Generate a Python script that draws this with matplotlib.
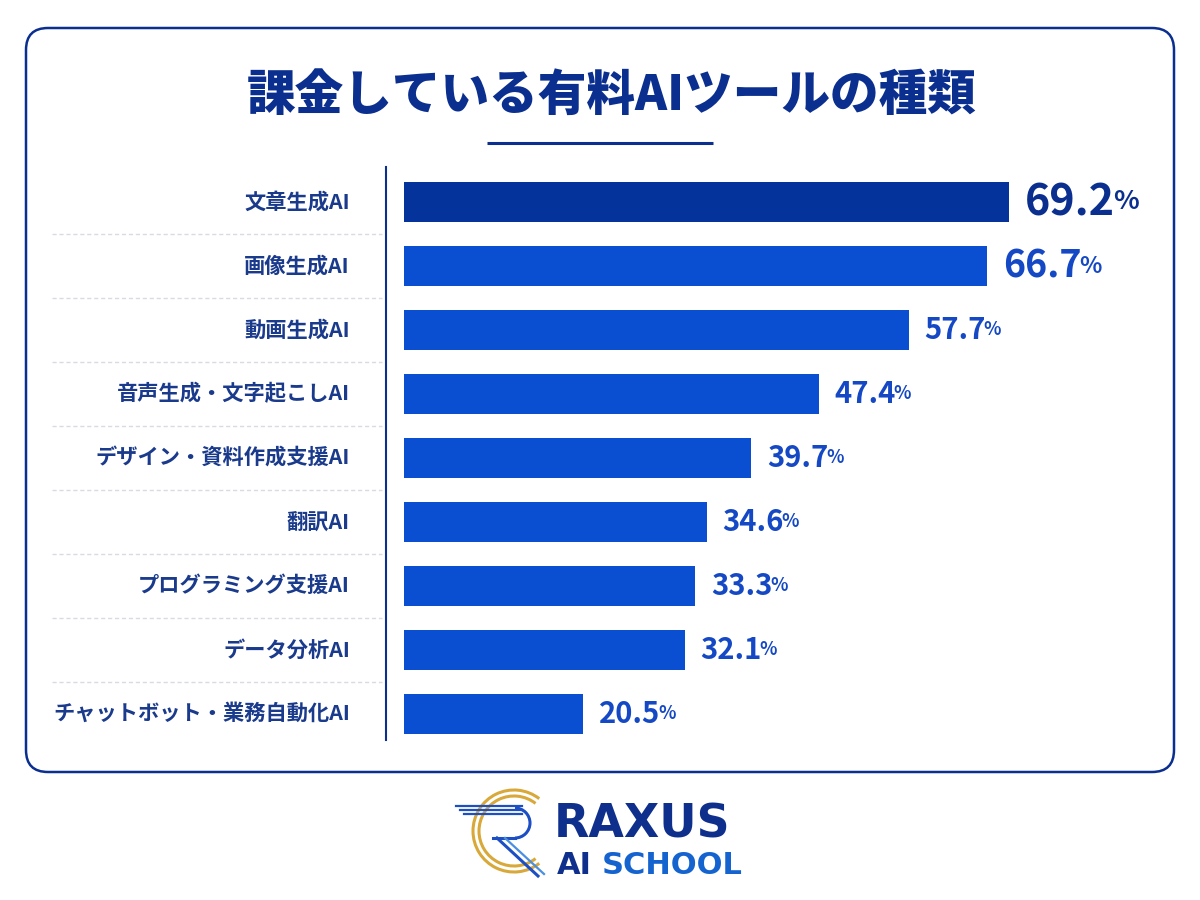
import matplotlib
matplotlib.use('Agg')
import matplotlib.pyplot as plt
from matplotlib.patches import FancyBboxPatch, Arc
from matplotlib.transforms import blended_transform_factory

plt.rcParams['font.family'] = ['Noto Sans CJK JP', 'DejaVu Sans']

title = '課金している有料AIツールの種類'
categories = ['文章生成AI', '画像生成AI', '動画生成AI', '音声生成・文字起こしAI',
              'デザイン・資料作成支援AI', '翻訳AI', 'プログラミング支援AI',
              'データ分析AI', 'チャットボット・業務自動化AI']
values = [69.2, 66.7, 57.7, 47.4, 39.7, 34.6, 33.3, 32.1, 20.5]

navy = '#0b2f8f'
blue = '#0a4fd2'
top_bar = '#03339b'

fig = plt.figure(figsize=(12, 9), dpi=100, facecolor='white')

# decoration layer in pixel coordinates
bg = fig.add_axes([0, 0, 1, 1])
bg.set_xlim(0, 1200)
bg.set_ylim(900, 0)
bg.axis('off')

box = FancyBboxPatch((26, 28), 1148, 744, boxstyle='round,pad=0,rounding_size=22',
                     facecolor='white', edgecolor=navy, linewidth=1.8)
bg.add_patch(box)
bg.text(612, 96, title, ha='center', va='center', fontsize=35,
        fontweight='heavy', color=navy)
bg.plot([487, 713], [143, 143], color=navy, lw=2.2, solid_capstyle='butt')

# logo
gold = '#d8a93a'
for r in (41, 35):
    bg.add_patch(Arc((514, 831), 2 * r, 2 * r, theta1=52, theta2=308,
                     color=gold, lw=2.2))
for dy in (0, 4, 8):
    bg.plot([456 + dy, 522], [806 + dy, 806 + dy], color='#1d4fc4', lw=1.6)
bg.add_patch(Arc((515, 823), 30, 30, theta1=-90, theta2=90, color='#1d4fc4', lw=2.2))
bg.plot([515, 493], [838, 838], color='#1d4fc4', lw=2.2)
bg.plot([497, 538], [838, 876], color='#1d4fc4', lw=2.2)
bg.plot([505, 544], [838, 874], color='#4a8fe0', lw=1.6)
bg.text(554, 838, 'RAXUS', ha='left', va='baseline', fontsize=33,
        fontweight='bold', color='#0f2f8c', family='DejaVu Sans')
bg.text(557, 874, 'AI', ha='left', va='baseline', fontsize=22,
        fontweight='bold', color='#0f2f8c', family='DejaVu Sans')
bg.text(602, 874, 'SCHOOL', ha='left', va='baseline', fontsize=22,
        fontweight='bold', color='#1463cf', family='DejaVu Sans')

# bar chart
ax = fig.add_axes([404 / 1200, 1 - 740 / 900, 746 / 1200, 573 / 900])
ax.set_facecolor('none')
ypos = list(range(len(categories)))
colors = [top_bar] + [blue] * (len(values) - 1)
ax.barh(ypos, values, height=0.63, color=colors)
ax.set_xlim(0, 85.3)
ax.set_ylim(8.41, -0.55)
ax.set_xticks([])
ax.set_yticks([])
for s in ['top', 'right', 'bottom']:
    ax.spines[s].set_visible(False)
ax.spines['left'].set_position(('outward', 13))
ax.spines['left'].set_color(navy)
ax.spines['left'].set_linewidth(1.5)

lab_tr = blended_transform_factory(fig.transFigure, ax.transData)
for i, name in enumerate(categories):
    ax.text(350 / 1200, i, name, transform=lab_tr, ha='right', va='center',
            fontsize=15.3, fontweight='bold', color='#1a3a8c')
for i in range(len(categories) - 1):
    ax.plot([52 / 1200, 382 / 1200], [i + 0.5, i + 0.5], transform=lab_tr,
            color='#d8dbe2', lw=1, ls=(0, (3, 2)), clip_on=False)

num_sizes = [31, 27] + [21] * (len(values) - 2)
num_colors = [navy] + ['#1448c4'] * (len(values) - 1)
for i, v in enumerate(values):
    t = ax.text(v + 1.8, i, f'{v:.1f}', ha='left', va='center',
                fontsize=num_sizes[i], fontweight='bold', color=num_colors[i])
    ax.annotate('%', xy=(1, 0.2), xycoords=t, xytext=(-1.5, 0),
                textcoords='offset points', ha='left', va='bottom',
                fontsize=num_sizes[i] * 0.62, fontweight='bold',
                color=num_colors[i])

fig.savefig('out.png', dpi=100, facecolor='white')
